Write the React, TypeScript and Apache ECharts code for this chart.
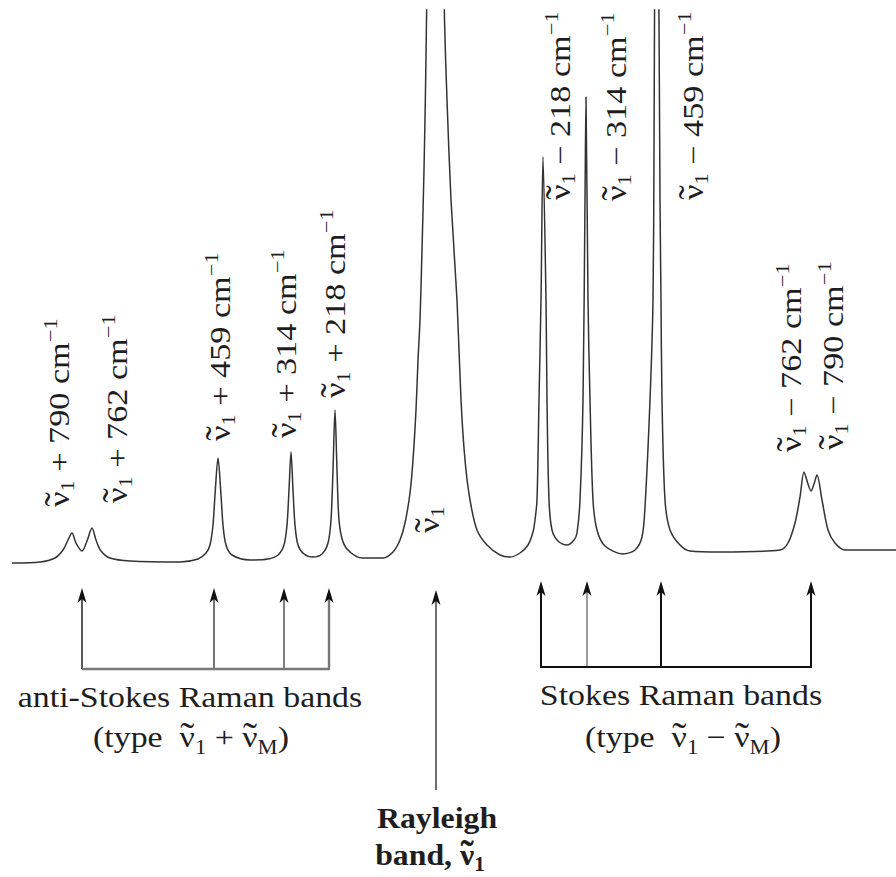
import React, { useEffect, useRef } from 'react';
import * as echarts from 'echarts';

// Spectrum trace: x position (arb. units) and intensity above baseline
const spectrumX = [12, 40, 55, 63, 68, 72, 76, 82, 87, 92, 96, 101, 110, 130, 180, 198, 206, 210, 213, 215, 218, 221, 223, 226, 232, 250, 268, 278, 284, 287, 289, 291, 293, 295, 298, 304, 313, 322, 328, 331, 333, 335, 337, 339, 343, 350, 362, 383, 393, 400, 405, 410, 413, 416, 418, 420, 422, 424, 425.5, 426.5, 427.5, 435, 443.5, 444.5, 447, 451, 457, 461, 465, 470, 477, 487, 500, 510, 520, 528, 533, 535, 537, 539, 541, 543, 546, 547, 549, 552, 558, 567, 574, 577, 580, 583, 585, 586, 588, 590, 593, 597, 605, 623, 635, 642, 645, 650, 653, 654, 654.5, 655, 656.5, 658, 659, 660, 661, 662, 665, 670, 680, 690, 720, 780, 788, 795, 800, 804, 808, 811, 814, 817, 822, 828, 835, 845, 896];
const spectrumI = [-1, 0, 4, 12, 22, 29, 19, 11, 21, 34, 22, 11, 4, 1, 0, 3, 9, 17, 37, 67, 104, 67, 37, 17, 7, 2, 3, 7, 17, 37, 72, 110, 72, 37, 17, 8, 5, 8, 19, 42, 92, 152, 92, 42, 20, 10, 4, 4, 10, 22, 39, 69, 102, 152, 202, 242, 312, 392, 472, 542, 622, 2000, 622, 542, 462, 362, 262, 162, 102, 62, 32, 17, 7, 5, 9, 17, 30, 42, 62, 162, 262, 405, 262, 162, 62, 32, 21, 17, 22, 29, 62, 162, 362, 465, 262, 162, 62, 32, 16, 8, 12, 25, 55, 162, 262, 412, 542, 622, 2000, 622, 542, 362, 262, 162, 62, 32, 17, 11, 10, 12, 19, 39, 65, 90, 78, 71, 78, 87, 62, 32, 19, 12, 12];

// Band markers (x positions in the same units as spectrumX)
const antiStokesArrowX = [82, 214, 284, 329];
const stokesArrowX = [541, 587, 661, 811];
const rayleighArrowX = [436];

// Label texts
const antiStokesShifts = ['790', '762', '459', '314', '218'];
const stokesShifts = ['218', '314', '459', '762', '790'];
const groupTitles = ['anti-Stokes Raman bands', 'Stokes Raman bands'];
const rayleighTitle = ['Rayleigh', 'band, '];

// Layout (pixels)
const antiLabelPos = [[59, 507], [117, 503], [220, 441], [286, 438], [335, 398]];
const stokesLabelPos = [[560, 200], [616, 201], [693, 200], [791, 452], [833, 450]];

const SERIF = '"Liberation Serif", "Times New Roman", serif';
const TEXT = '#1e1e1e';
const TILDE = '\u02DC';

type Tok = [string, string, boolean?];

export default function App() {
  const ref = useRef<HTMLDivElement>(null);

  useEffect(() => {
    document.body.style.margin = '0';
    const chart = echarts.init(ref.current!, undefined, { renderer: 'svg' });
    chart.setOption({
      animation: false,
      backgroundColor: '#ffffff',
      grid: { left: 0, right: 0, top: 10, bottom: 0 },
      xAxis: { type: 'value', min: 0, max: 896, show: false },
      yAxis: { type: 'value', min: -315, max: 552, show: false },
      series: [
        {
          type: 'line',
          data: spectrumX.map((x, i) => [x, spectrumI[i]]),
          showSymbol: false,
          symbol: 'none',
          smooth: 0.3,
          clip: true,
          lineStyle: { color: '#333', width: 1.5 },
        },
      ],
    });

    const px = (x: number) => (chart.convertToPixel({ gridIndex: 0 }, [x, 0]) as number[])[0];

    const rot: any = {
      n: { fontSize: 29, fontFamily: SERIF, lineHeight: 36, fill: TEXT },
      s: { fontSize: 19, fontFamily: SERIF, lineHeight: 20, verticalAlign: 'bottom', fill: TEXT },
      p: { fontSize: 19, fontFamily: SERIF, lineHeight: 20, verticalAlign: 'top', fill: TEXT },
    };
    const hor: any = {
      t: { fontSize: 30, fontFamily: SERIF, lineHeight: 40, fill: TEXT },
      s: { fontSize: 20, fontFamily: SERIF, lineHeight: 20, verticalAlign: 'bottom', fill: TEXT },
      b: { fontSize: 30, fontFamily: SERIF, fontWeight: 'bold', lineHeight: 38, fill: TEXT },
      bs: { fontSize: 20, fontFamily: SERIF, fontWeight: 'bold', lineHeight: 20, verticalAlign: 'bottom', fill: TEXT },
    };

    const ctx = document.createElement('canvas').getContext('2d')!;
    const measure = (text: string, st: any) => {
      ctx.font = `normal ${st.fontWeight || 'normal'} ${st.fontSize}px ${SERIF}`;
      return ctx.measureText(text).width;
    };

    // a row of rich-text tokens; tokens flagged true get a tilde accent over them
    const row = (tokens: Tok[], rich: any, align: 'left' | 'center') => {
      const ws = tokens.map(([k, t]) => measure(t, rich[k]));
      const total = ws.reduce((a, b) => a + b, 0);
      let cx = align === 'center' ? -total / 2 : 0;
      const children: any[] = [
        {
          type: 'text',
          x: 0,
          y: 0,
          style: {
            text: tokens.map(([k, t]) => `{${k}|${t}}`).join(''),
            rich,
            align,
            textAlign: align,
            verticalAlign: 'middle',
            textVerticalAlign: 'middle',
            fill: TEXT,
          },
        },
      ];
      tokens.forEach(([k, t, tl], i) => {
        if (tl) {
          const st = rich[k];
          children.push({
            type: 'text',
            x: cx + ws[i] / 2,
            y: -1,
            style: {
              text: TILDE,
              fontSize: st.fontSize * 1.25,
              fontFamily: SERIF,
              fontWeight: st.fontWeight || 'normal',
              align: 'center',
              textAlign: 'center',
              verticalAlign: 'middle',
              textVerticalAlign: 'middle',
              fill: TEXT,
            },
          });
        }
        cx += ws[i];
      });
      return children;
    };

    const graphic: any[] = [];
    const rotLabel = (x: number, y: number, tokens: Tok[]) => ({
      type: 'group',
      x,
      y,
      rotation: Math.PI / 2,
      scaleX: 1.18,
      children: row(tokens, rot, 'left'),
    });
    antiStokesShifts.forEach((s, i) =>
      graphic.push(rotLabel(antiLabelPos[i][0], antiLabelPos[i][1], [['n', 'ν', true], ['s', '1'], ['n', ` + ${s} cm`], ['p', '−1']]))
    );
    stokesShifts.forEach((s, i) =>
      graphic.push(rotLabel(stokesLabelPos[i][0], stokesLabelPos[i][1], [['n', 'ν', true], ['s', '1'], ['n', ` − ${s} cm`], ['p', '−1']]))
    );
    graphic.push(rotLabel(429, 533, [['n', 'ν', true], ['s', '1']]));

    const arrow = (x: number, tipY: number, bottomY: number, color: string, width: number) => {
      graphic.push({
        type: 'line',
        shape: { x1: x, y1: tipY + 8, x2: x, y2: bottomY },
        style: { stroke: color, lineWidth: width },
      });
      graphic.push({
        type: 'polygon',
        shape: { points: [[x, tipY], [x - 4.5, tipY + 15], [x, tipY + 11], [x + 4.5, tipY + 15]] },
        style: { fill: '#111' },
      });
    };

    // anti-Stokes bracket
    const aX = antiStokesArrowX.map(px);
    const aColors = ['#222', '#444', '#555', '#777'];
    aX.forEach((x, i) => arrow(x, 588, 669, aColors[i], i === 3 ? 2.4 : 1.5));
    graphic.push({
      type: 'line',
      shape: { x1: aX[0], y1: 669, x2: aX[aX.length - 1] + 1, y2: 669 },
      style: { stroke: '#777', lineWidth: 2.4 },
    });
    // Stokes bracket
    const sX = stokesArrowX.map(px);
    const sColors = ['#111', '#666', '#111', '#111'];
    sX.forEach((x, i) => arrow(x, 581, 667, sColors[i], i === 1 ? 1.3 : 2));
    graphic.push({
      type: 'line',
      shape: { x1: sX[0] - 1, y1: 667, x2: sX[sX.length - 1] + 1, y2: 667 },
      style: { stroke: '#111', lineWidth: 2 },
    });
    // Rayleigh
    arrow(px(rayleighArrowX[0]), 590, 790, '#222', 1.3);

    const hRow = (x: number, y: number, tokens: Tok[], sx: number) => ({
      type: 'group',
      x,
      y,
      scaleX: sx,
      children: row(tokens, hor, 'center'),
    });
    graphic.push(hRow(190, 697, [['t', groupTitles[0]]], 1.13));
    graphic.push(hRow(191, 737, [['t', '(type  '], ['t', 'ν', true], ['s', '1'], ['t', ' + '], ['t', 'ν', true], ['s', 'M'], ['t', ')']], 1.13));
    graphic.push(hRow(681, 695, [['t', groupTitles[1]]], 1.13));
    graphic.push(hRow(683, 737, [['t', '(type  '], ['t', 'ν', true], ['s', '1'], ['t', ' − '], ['t', 'ν', true], ['s', 'M'], ['t', ')']], 1.13));
    graphic.push(hRow(437, 818, [['b', rayleighTitle[0]]], 1.06));
    graphic.push(hRow(430, 855, [['b', rayleighTitle[1]], ['b', 'ν', true], ['bs', '1']], 1.06));

    chart.setOption({ graphic });

    return () => chart.dispose();
  }, []);

  return <div ref={ref} style={{ position: 'absolute', left: 0, top: 0, width: 896, height: 877 }} />;
}
